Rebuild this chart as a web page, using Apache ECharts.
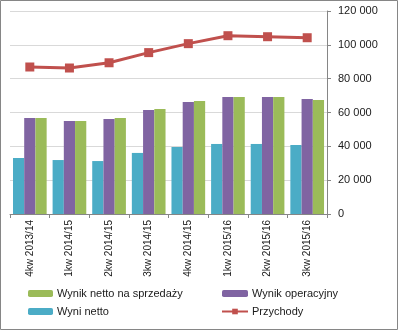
<!DOCTYPE html>
<html>
<head>
<meta charset="utf-8">
<script src="https://cdn.jsdelivr.net/npm/echarts@6/dist/echarts.min.js"></script>
<style>
html,body{margin:0;padding:0;background:#fff;}
#c{width:398px;height:330px;}
</style>
</head>
<body>
<div id="c"></div>
<script>
const categories = ['4kw 2013/14','1kw 2014/15','2kw 2014/15','3kw 2014/15','4kw 2014/15','1kw 2015/16','2kw 2015/16','3kw 2015/16'];
const wyniNetto = [33100, 31900, 31300, 36100, 39600, 41400, 41400, 40800];
const wynikOperacyjny = [56800, 55000, 56200, 61500, 66200, 69200, 69200, 68000];
const wynikNettoSprzedaz = [56800, 55000, 56800, 62100, 66800, 69200, 69200, 67400];
const przychody = [86900, 86300, 89400, 95400, 100700, 105400, 104800, 104200];
const yTicks = {min: 0, max: 120000, interval: 20000};

const chart = echarts.init(document.getElementById('c'), null, {renderer: 'canvas'});
const font = 'Liberation Sans, Arial, sans-serif';
const fmt = v => String(v).replace(/\B(?=(\d{3})+(?!\d))/g, ' ');
const legendText = {fontFamily: font, fontSize: 11, color: '#1a1a1a', padding: [0, 0, 0, -1]};
chart.setOption({
  animation: false,
  backgroundColor: '#fff',
  graphic: [{type: 'rect', shape: {x: 0.5, y: 0.5, width: 397, height: 329}, style: {fill: 'none', stroke: '#868686', lineWidth: 1}, silent: true}],
  grid: {left: 10, right: 71, top: 11, bottom: 116, containLabel: false},
  legend: [
    {left: 28, top: 288, padding: 0, orient: 'vertical', itemWidth: 25, itemHeight: 7, itemGap: 7, textStyle: legendText,
     data: ['Wynik netto na sprzedaży', 'Wyni netto']},
    {left: 221, top: 288, padding: 0, orient: 'vertical', itemWidth: 26, itemHeight: 7, itemGap: 7, textStyle: legendText,
     data: ['Wynik operacyjny', 'Przychody']}
  ],
  xAxis: {
    type: 'category', data: categories,
    axisLine: {lineStyle: {color: '#868686', width: 1}},
    axisTick: {show: true, length: 4, alignWithLabel: false, lineStyle: {color: '#868686'}},
    axisLabel: {rotate: 90, margin: 6, fontFamily: font, fontSize: 10, color: '#1a1a1a', interval: 0}
  },
  yAxis: {
    type: 'value', position: 'right', min: yTicks.min, max: yTicks.max, interval: yTicks.interval,
    axisLine: {show: true, lineStyle: {color: '#868686'}},
    axisTick: {show: true, length: 4, lineStyle: {color: '#868686'}},
    splitLine: {lineStyle: {color: '#d9d9d9', width: 1}},
    axisLabel: {margin: 11, fontFamily: font, fontSize: 11, color: '#1a1a1a', formatter: fmt}
  },
  series: [
    {name: 'Wyni netto', type: 'bar', data: wyniNetto, itemStyle: {color: '#4BACC6'}, barGap: '0%', barCategoryGap: '15%'},
    {name: 'Wynik operacyjny', type: 'bar', data: wynikOperacyjny, itemStyle: {color: '#8064A2'}, barGap: '0%', barCategoryGap: '15%'},
    {name: 'Wynik netto na sprzedaży', type: 'bar', data: wynikNettoSprzedaz, itemStyle: {color: '#9BBB59'}, barGap: '0%', barCategoryGap: '15%'},
    {name: 'Przychody', type: 'line', data: przychody, symbol: 'rect', symbolSize: 9,
     lineStyle: {color: '#C0504D', width: 3}, itemStyle: {color: '#C0504D'}}
  ]
});
</script>
</body>
</html>
